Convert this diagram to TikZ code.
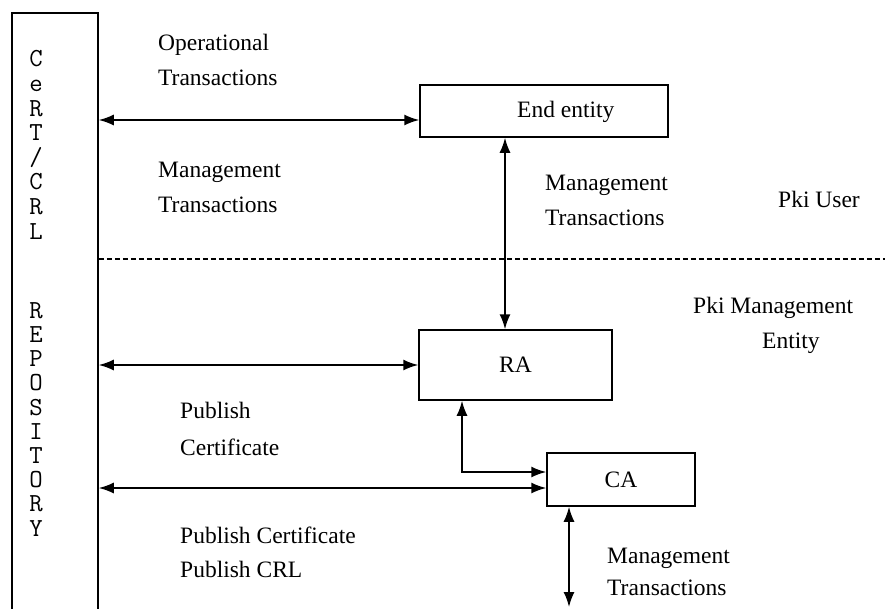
\documentclass[tikz,border=0pt]{standalone}
\usepackage{fontspec}
\setmainfont{Liberation Serif}
\usetikzlibrary{arrows.meta,calc}

\begin{document}
\begin{tikzpicture}[x=1pt,y=-1pt,
  box/.style={draw, line width=1.5pt, inner sep=0pt, font=\fontsize{23.5}{28}\selectfont},
  both/.style={{Latex[length=15pt,width=11pt]}-{Latex[length=15pt,width=11pt]}, line width=1.6pt},
  txt/.style={anchor=base west, inner sep=0pt, font=\fontsize{23.5}{28}\selectfont},
  letters/.style={anchor=base, inner sep=0pt, align=center}]
\useasboundingbox (0,0) rectangle (885,608);
% repository column
\node[draw, line width=1.5pt, minimum width=86pt, minimum height=602pt, inner sep=0pt] (repo) at (55,314) {};
\node[letters, font=\fontsize{26}{24.6}\ttfamily] (cert) at (36,239) {C\\e\\R\\T\\/\\C\\R\\L};
\node[letters, font=\fontsize{26}{24.2}\ttfamily] (rep) at (36,536) {R\\E\\P\\O\\S\\I\\T\\O\\R\\Y};
% boxes
\node[box, minimum width=248pt, minimum height=52pt] (ee) at (544,111) {};
\node[txt] (eet) at (517,117) {End entity};
\node[box, minimum width=193pt, minimum height=70pt] (ra) at (515.5,365) {RA};
\node[box, minimum width=148pt, minimum height=53pt] (ca) at (621,479.5) {CA};
\coordinate (pa) at ([yshift=-9pt]ee.west);
\coordinate (pb) at ([xshift=-39pt]ee.south);
\coordinate (pc) at ([xshift=-53.5pt]ra.south);
\coordinate (pd) at ([yshift=7.5pt]ca.west);
\coordinate (pe) at ([yshift=-8.5pt]ca.west);
\coordinate (pf) at ([xshift=-52pt]ca.south);
\coordinate (pg) at (pf |- 0,607);
% connectors
\draw[both] (repo.east |- pa) -- (pa);
\draw[both] (pb) -- (pb |- ra.north);
\draw[both] (repo.east |- ra.west) -- (ra.west);
\draw[both] (pc) |- (pd);
\draw[both] (repo.east |- pe) -- (pe);
\draw[both] (pf) -- (pg);
\draw[line width=1.2pt, dash pattern=on 5pt off 3pt] (repo.east |- 0,259) -- (885,259);
% labels
\node[txt] (op1) at (158,50) {Operational};
\node[txt] (op2) at (158,85) {Transactions};
\node[txt] (mg1) at (158,177) {Management};
\node[txt] (mg2) at (158,212) {Transactions};
\node[txt] (mg3) at (545,190) {Management};
\node[txt] (mg4) at (545,225) {Transactions};
\node[txt] (usr) at (778,207) {Pki User};
\node[txt] (pme1) at (693,313) {Pki Management};
\node[txt] (pme2) at (762,348) {Entity};
\node[txt] (pub1) at (180,418) {Publish};
\node[txt] (pub2) at (180,455) {Certificate};
\node[txt] (pub3) at (180,543) {Publish Certificate};
\node[txt] (pub4) at (180,577) {Publish CRL};
\node[txt] (mg5) at (607,563) {Management};
\node[txt] (mg6) at (607,595) {Transactions};
\end{tikzpicture}
\end{document}
